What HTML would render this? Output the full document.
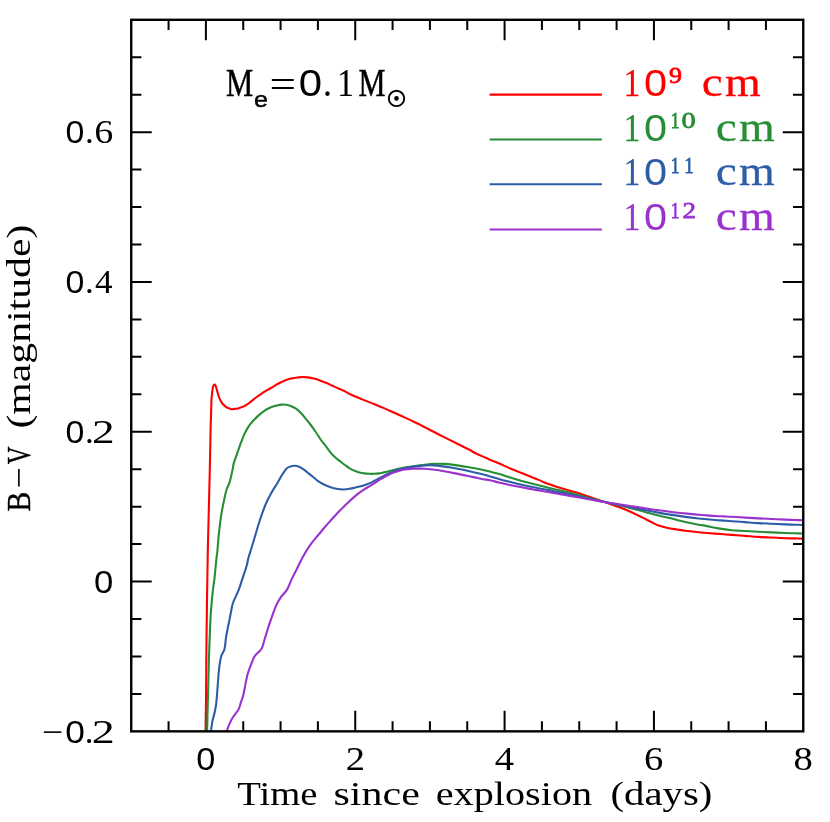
<!DOCTYPE html>
<html lang="en">
<head>
<meta charset="utf-8">
<title>B-V colour evolution</title>
<style>
html,body{margin:0;padding:0;background:#fff;}
body{width:830px;height:822px;overflow:hidden;font-family:"Liberation Serif",serif;}
svg{display:block;will-change:transform;}
</style>
</head>
<body>
<svg width="830" height="822" viewBox="0 0 830 822">
<rect x="0" y="0" width="830" height="822" fill="#fff"/>
<defs><clipPath id="c"><rect x="131.23" y="19.80" width="672.03" height="711.55"/></clipPath></defs>
<g stroke="#000" stroke-width="2.00" fill="none">
<path d="M168.56 731.35 V721.15 M168.56 19.80 V30.00"/>
<path d="M205.90 731.35 V710.85 M205.90 19.80 V40.30"/>
<path d="M243.24 731.35 V721.15 M243.24 19.80 V30.00"/>
<path d="M280.57 731.35 V721.15 M280.57 19.80 V30.00"/>
<path d="M317.90 731.35 V721.15 M317.90 19.80 V30.00"/>
<path d="M355.24 731.35 V710.85 M355.24 19.80 V40.30"/>
<path d="M392.58 731.35 V721.15 M392.58 19.80 V30.00"/>
<path d="M429.91 731.35 V721.15 M429.91 19.80 V30.00"/>
<path d="M467.25 731.35 V721.15 M467.25 19.80 V30.00"/>
<path d="M504.58 731.35 V710.85 M504.58 19.80 V40.30"/>
<path d="M541.91 731.35 V721.15 M541.91 19.80 V30.00"/>
<path d="M579.25 731.35 V721.15 M579.25 19.80 V30.00"/>
<path d="M616.59 731.35 V721.15 M616.59 19.80 V30.00"/>
<path d="M653.92 731.35 V710.85 M653.92 19.80 V40.30"/>
<path d="M691.25 731.35 V721.15 M691.25 19.80 V30.00"/>
<path d="M728.59 731.35 V721.15 M728.59 19.80 V30.00"/>
<path d="M765.92 731.35 V721.15 M765.92 19.80 V30.00"/>
<path d="M131.23 693.90 H141.43 M803.26 693.90 H793.06"/>
<path d="M131.23 656.45 H141.43 M803.26 656.45 H793.06"/>
<path d="M131.23 619.00 H141.43 M803.26 619.00 H793.06"/>
<path d="M131.23 581.55 H151.73 M803.26 581.55 H782.76"/>
<path d="M131.23 544.10 H141.43 M803.26 544.10 H793.06"/>
<path d="M131.23 506.65 H141.43 M803.26 506.65 H793.06"/>
<path d="M131.23 469.20 H141.43 M803.26 469.20 H793.06"/>
<path d="M131.23 431.75 H151.73 M803.26 431.75 H782.76"/>
<path d="M131.23 394.30 H141.43 M803.26 394.30 H793.06"/>
<path d="M131.23 356.85 H141.43 M803.26 356.85 H793.06"/>
<path d="M131.23 319.40 H141.43 M803.26 319.40 H793.06"/>
<path d="M131.23 281.95 H151.73 M803.26 281.95 H782.76"/>
<path d="M131.23 244.50 H141.43 M803.26 244.50 H793.06"/>
<path d="M131.23 207.05 H141.43 M803.26 207.05 H793.06"/>
<path d="M131.23 169.60 H141.43 M803.26 169.60 H793.06"/>
<path d="M131.23 132.15 H151.73 M803.26 132.15 H782.76"/>
<path d="M131.23 94.70 H141.43 M803.26 94.70 H793.06"/>
<path d="M131.23 57.25 H141.43 M803.26 57.25 H793.06"/>
</g>
<g clip-path="url(#c)" fill="none" stroke-width="2.10" stroke-linejoin="round" stroke-linecap="butt">
<path d="M205.70 732.00 C205.72 730.25 205.77 725.00 205.80 721.50 C205.83 718.00 205.87 714.50 205.90 711.00 C205.93 707.50 205.97 704.00 206.00 700.50 C206.03 697.00 206.07 693.97 206.10 690.00 C206.13 686.03 206.17 681.11 206.20 676.67 C206.23 672.22 206.27 667.78 206.30 663.33 C206.33 658.89 206.36 654.31 206.40 650.00 C206.44 645.69 206.50 641.67 206.55 637.50 C206.60 633.33 206.65 629.17 206.70 625.00 C206.75 620.83 206.80 616.67 206.85 612.50 C206.90 608.33 206.94 604.31 207.00 600.00 C207.06 595.69 207.14 591.11 207.22 586.67 C207.29 582.22 207.36 577.78 207.43 573.33 C207.51 568.89 207.58 563.70 207.65 560.00 C207.72 556.30 207.77 554.10 207.82 551.15 C207.88 548.20 207.92 545.79 208.00 542.30 C208.08 538.81 208.20 534.26 208.30 530.23 C208.40 526.21 208.50 522.19 208.60 518.17 C208.70 514.14 208.80 510.12 208.90 506.10 C209.00 502.08 209.10 498.08 209.20 494.07 C209.30 490.06 209.40 486.04 209.50 482.03 C209.60 478.02 209.71 474.23 209.80 470.00 C209.89 465.77 209.98 461.11 210.07 456.67 C210.16 452.22 210.24 447.78 210.33 443.33 C210.42 438.89 210.52 433.71 210.60 430.00 C210.68 426.29 210.70 424.42 210.80 421.10 C210.90 417.78 211.08 413.75 211.20 410.10 C211.32 406.45 211.33 402.23 211.50 399.20 C211.67 396.17 211.97 393.90 212.20 391.90 C212.43 389.90 212.65 388.32 212.90 387.20 C213.15 386.08 213.43 385.63 213.70 385.20 C213.97 384.77 214.22 384.58 214.50 384.60 C214.78 384.62 215.08 384.70 215.40 385.30 C215.72 385.90 216.05 387.03 216.40 388.20 C216.75 389.37 217.07 390.83 217.50 392.30 C217.93 393.77 218.45 395.55 219.00 397.00 C219.55 398.45 220.13 399.78 220.80 401.00 C221.47 402.22 222.15 403.32 223.00 404.30 C223.85 405.28 224.93 406.23 225.90 406.90 C226.87 407.57 227.88 407.92 228.80 408.30 C229.72 408.68 230.42 409.10 231.40 409.20 C232.38 409.30 233.60 409.02 234.70 408.90 C235.80 408.78 236.78 408.82 238.00 408.50 C239.22 408.18 240.73 407.53 242.00 407.00 C243.27 406.47 244.27 406.08 245.60 405.30 C246.93 404.52 248.27 403.60 250.00 402.30 C251.73 401.00 254.00 399.00 256.00 397.50 C258.00 396.00 259.98 394.60 262.00 393.30 C264.02 392.00 266.08 390.90 268.10 389.70 C270.12 388.50 272.10 387.25 274.10 386.10 C276.10 384.95 278.10 383.80 280.10 382.80 C282.10 381.80 284.08 380.85 286.10 380.10 C288.12 379.35 290.18 378.75 292.20 378.30 C294.22 377.85 296.40 377.62 298.20 377.40 C300.00 377.18 301.40 377.00 303.00 377.00 C304.60 377.00 305.98 377.13 307.80 377.40 C309.62 377.67 311.88 378.10 313.90 378.60 C315.92 379.10 317.90 379.70 319.90 380.40 C321.90 381.10 323.90 381.95 325.90 382.80 C327.90 383.65 329.88 384.58 331.90 385.50 C333.92 386.42 335.98 387.40 338.00 388.30 C340.02 389.20 341.87 389.87 344.00 390.90 C346.13 391.93 347.85 393.13 350.80 394.50 C353.75 395.87 358.08 397.62 361.70 399.10 C365.32 400.58 368.88 401.93 372.50 403.40 C376.12 404.87 379.78 406.35 383.40 407.90 C387.02 409.45 390.58 411.08 394.20 412.70 C397.82 414.32 401.48 415.93 405.10 417.60 C408.72 419.27 412.96 421.27 415.90 422.70 C418.84 424.13 420.47 425.03 422.75 426.20 C425.03 427.37 426.84 428.28 429.60 429.70 C432.36 431.12 436.05 433.05 439.30 434.70 C442.55 436.35 445.85 437.97 449.10 439.60 C452.35 441.23 455.57 442.88 458.80 444.50 C462.03 446.12 465.58 447.78 468.50 449.30 C471.42 450.82 473.38 452.18 476.30 453.60 C479.22 455.02 483.72 456.77 486.00 457.80 C488.28 458.83 487.72 458.80 490.00 459.80 C492.28 460.80 496.45 462.40 499.70 463.80 C502.95 465.20 506.25 466.82 509.50 468.20 C512.75 469.58 515.97 470.80 519.20 472.10 C522.43 473.40 525.65 474.70 528.90 476.00 C532.15 477.30 535.78 478.68 538.70 479.90 C541.62 481.12 543.17 482.08 546.40 483.30 C549.63 484.52 555.00 486.22 558.10 487.20 C561.20 488.18 562.23 488.38 565.00 489.20 C567.77 490.02 571.45 491.10 574.70 492.10 C577.95 493.10 581.25 494.15 584.50 495.20 C587.75 496.25 590.97 497.30 594.20 498.40 C597.43 499.50 600.65 500.65 603.90 501.80 C607.15 502.95 610.45 504.15 613.70 505.30 C616.95 506.45 620.17 507.42 623.40 508.70 C626.63 509.98 629.50 511.30 633.10 513.00 C636.70 514.70 641.89 517.36 645.00 518.90 C648.11 520.44 649.50 521.13 651.75 522.25 C654.00 523.37 655.59 524.59 658.50 525.60 C661.41 526.61 666.08 527.65 669.20 528.30 C672.33 528.95 674.57 529.10 677.25 529.50 C679.93 529.90 681.72 530.23 685.30 530.70 C688.88 531.17 695.11 531.92 698.70 532.30 C702.29 532.67 704.13 532.73 706.85 532.95 C709.57 533.17 712.24 533.38 715.00 533.60 C717.76 533.82 720.60 534.03 723.40 534.25 C726.20 534.47 728.17 534.62 731.80 534.90 C735.42 535.17 740.70 535.57 745.15 535.90 C749.60 536.23 754.04 536.62 758.50 536.90 C762.96 537.17 767.43 537.33 771.90 537.55 C776.37 537.77 781.56 538.06 785.30 538.20 C789.04 538.34 791.33 538.33 794.35 538.40 C797.37 538.47 801.89 538.57 803.40 538.60" stroke="#ff0000"/>
<path d="M207.10 732.00 C207.13 730.59 207.23 726.37 207.30 723.55 C207.37 720.73 207.43 718.11 207.50 715.10 C207.57 712.09 207.66 708.68 207.73 705.47 C207.81 702.26 207.89 699.04 207.97 695.83 C208.04 692.62 208.12 689.41 208.20 686.20 C208.28 682.99 208.38 679.78 208.47 676.57 C208.56 673.36 208.64 670.14 208.73 666.93 C208.82 663.72 208.91 660.18 209.00 657.30 C209.09 654.42 209.17 652.20 209.25 649.65 C209.33 647.10 209.41 644.50 209.50 642.00 C209.59 639.50 209.70 637.10 209.80 634.65 C209.90 632.20 209.95 630.54 210.10 627.30 C210.25 624.06 210.45 619.22 210.70 615.20 C210.95 611.18 211.25 607.22 211.60 603.20 C211.95 599.18 212.33 595.12 212.80 591.10 C213.27 587.08 213.93 583.12 214.40 579.10 C214.87 575.08 215.25 570.52 215.60 567.00 C215.95 563.48 216.22 560.52 216.50 558.00 C216.78 555.48 217.07 554.12 217.30 551.90 C217.53 549.68 217.70 547.10 217.90 544.70 C218.10 542.30 218.27 539.91 218.50 537.50 C218.73 535.09 219.03 532.67 219.30 530.25 C219.57 527.83 219.67 526.21 220.10 523.00 C220.53 519.79 221.20 515.02 221.90 511.00 C222.60 506.98 223.50 502.52 224.30 498.90 C225.10 495.28 225.80 492.12 226.70 489.30 C227.60 486.48 228.73 485.22 229.70 482.00 C230.67 478.78 231.82 473.15 232.50 470.00 C233.18 466.85 233.02 465.87 233.80 463.10 C234.58 460.33 236.07 456.63 237.20 453.40 C238.33 450.17 239.38 446.95 240.60 443.70 C241.82 440.45 243.13 436.83 244.50 433.90 C245.87 430.97 247.35 428.28 248.80 426.10 C250.25 423.92 251.65 422.50 253.20 420.80 C254.75 419.10 256.32 417.52 258.10 415.90 C259.88 414.28 261.95 412.47 263.90 411.10 C265.85 409.73 267.85 408.60 269.80 407.70 C271.75 406.80 273.67 406.22 275.60 405.70 C277.53 405.18 279.62 404.77 281.40 404.60 C283.18 404.43 284.67 404.43 286.30 404.70 C287.93 404.97 289.58 405.55 291.20 406.20 C292.82 406.85 294.38 407.47 296.00 408.60 C297.62 409.73 299.40 411.45 300.90 413.00 C302.40 414.55 303.48 416.07 305.00 417.90 C306.52 419.73 308.27 421.73 310.00 424.00 C311.73 426.27 313.57 428.83 315.40 431.50 C317.23 434.17 319.35 437.68 321.00 440.00 C322.65 442.32 323.77 443.37 325.30 445.40 C326.83 447.43 328.57 450.22 330.20 452.20 C331.83 454.18 333.47 455.80 335.10 457.30 C336.73 458.80 338.37 459.92 340.00 461.20 C341.63 462.48 343.28 463.80 344.90 465.00 C346.52 466.20 348.08 467.43 349.70 468.40 C351.32 469.37 352.97 470.12 354.60 470.80 C356.23 471.48 357.88 472.07 359.50 472.50 C361.12 472.93 362.68 473.18 364.30 473.40 C365.92 473.62 367.57 473.73 369.20 473.80 C370.83 473.87 372.48 473.87 374.10 473.80 C375.72 473.73 377.28 473.63 378.90 473.40 C380.52 473.17 382.17 472.75 383.80 472.40 C385.43 472.05 387.08 471.70 388.70 471.30 C390.32 470.90 391.88 470.42 393.50 470.00 C395.12 469.58 396.77 469.15 398.40 468.80 C400.03 468.45 401.68 468.18 403.30 467.90 C404.92 467.62 406.48 467.35 408.10 467.10 C409.72 466.85 411.02 466.68 413.00 466.40 C414.98 466.12 418.05 465.68 420.00 465.40 C421.95 465.12 422.28 464.95 424.70 464.70 C427.12 464.45 431.25 464.03 434.50 463.90 C437.75 463.77 440.97 463.73 444.20 463.90 C447.43 464.07 450.65 464.48 453.90 464.90 C457.15 465.32 460.45 465.88 463.70 466.40 C466.95 466.92 470.17 467.40 473.40 468.00 C476.63 468.60 480.33 469.40 483.10 470.00 C485.87 470.60 487.23 470.92 490.00 471.60 C492.77 472.28 496.45 473.15 499.70 474.10 C502.95 475.05 506.25 476.28 509.50 477.30 C512.75 478.32 515.97 479.28 519.20 480.20 C522.43 481.12 525.65 481.95 528.90 482.80 C532.15 483.65 535.45 484.48 538.70 485.30 C541.95 486.12 545.17 486.90 548.40 487.70 C551.63 488.50 555.33 489.47 558.10 490.10 C560.87 490.73 562.23 490.82 565.00 491.50 C567.77 492.18 571.50 493.27 574.75 494.15 C578.00 495.03 581.09 495.90 584.50 496.80 C587.91 497.70 591.63 498.63 595.20 499.55 C598.77 500.47 602.66 501.52 605.90 502.30 C609.14 503.08 611.73 503.60 614.65 504.25 C617.57 504.90 620.54 505.47 623.40 506.20 C626.26 506.93 628.20 507.65 631.80 508.60 C635.40 509.55 640.55 510.73 645.00 511.90 C649.45 513.07 654.02 514.48 658.50 515.60 C662.98 516.72 667.43 517.53 671.90 518.60 C676.37 519.67 680.83 520.98 685.30 522.00 C689.77 523.02 695.42 524.10 698.70 524.70 C701.98 525.30 701.72 524.98 705.00 525.60 C708.28 526.22 713.93 527.63 718.40 528.40 C722.87 529.17 727.34 529.77 731.80 530.20 C736.26 530.63 740.70 530.73 745.15 531.00 C749.60 531.27 754.04 531.57 758.50 531.80 C762.96 532.03 767.43 532.20 771.90 532.40 C776.37 532.60 781.56 532.86 785.30 533.00 C789.04 533.14 791.33 533.17 794.35 533.25 C797.37 533.33 801.89 533.46 803.40 533.50" stroke="#278e36"/>
<path d="M210.80 732.00 C211.08 730.15 211.83 724.28 212.50 720.90 C213.17 717.52 214.18 714.58 214.80 711.70 C215.42 708.82 215.77 707.27 216.20 703.60 C216.63 699.93 217.05 694.13 217.40 689.70 C217.75 685.27 217.95 681.05 218.30 677.00 C218.65 672.95 219.02 668.87 219.50 665.40 C219.98 661.93 220.37 658.93 221.20 656.20 C222.03 653.47 223.68 652.22 224.50 649.00 C225.32 645.78 225.53 640.52 226.10 636.90 C226.67 633.28 227.30 630.30 227.90 627.30 C228.50 624.30 229.10 621.92 229.70 618.90 C230.30 615.88 230.90 612.02 231.50 609.20 C232.10 606.38 232.10 605.22 233.30 602.00 C234.50 598.78 237.20 593.72 238.70 589.90 C240.20 586.08 240.98 583.08 242.30 579.10 C243.62 575.12 245.58 569.52 246.60 566.00 C247.62 562.48 247.60 560.95 248.40 558.00 C249.20 555.05 250.30 551.92 251.40 548.30 C252.50 544.68 253.80 540.32 255.00 536.30 C256.20 532.28 257.40 528.02 258.60 524.20 C259.80 520.38 260.90 517.02 262.20 513.40 C263.50 509.78 264.88 505.92 266.40 502.50 C267.92 499.08 269.48 496.10 271.30 492.90 C273.12 489.70 275.50 486.32 277.30 483.30 C279.10 480.28 280.58 477.23 282.10 474.80 C283.62 472.37 285.03 470.08 286.40 468.70 C287.77 467.32 288.92 467.00 290.30 466.50 C291.68 466.00 293.23 465.65 294.70 465.70 C296.17 465.75 297.57 466.13 299.10 466.80 C300.63 467.47 302.28 468.57 303.90 469.70 C305.52 470.83 307.17 472.30 308.80 473.60 C310.43 474.90 312.08 476.20 313.70 477.50 C315.32 478.80 316.88 480.27 318.50 481.40 C320.12 482.53 321.62 483.42 323.40 484.30 C325.18 485.18 327.25 486.02 329.20 486.70 C331.15 487.38 333.22 487.97 335.10 488.40 C336.98 488.83 339.03 489.12 340.50 489.30 C341.97 489.48 342.37 489.58 343.90 489.50 C345.43 489.42 347.92 489.08 349.70 488.80 C351.48 488.52 352.97 488.17 354.60 487.80 C356.23 487.43 357.88 487.03 359.50 486.60 C361.12 486.17 362.68 485.73 364.30 485.20 C365.92 484.67 367.57 484.10 369.20 483.40 C370.83 482.70 372.48 481.83 374.10 481.00 C375.72 480.17 377.28 479.25 378.90 478.40 C380.52 477.55 382.17 476.72 383.80 475.90 C385.43 475.08 387.08 474.23 388.70 473.50 C390.32 472.77 391.88 472.15 393.50 471.50 C395.12 470.85 396.77 470.12 398.40 469.60 C400.03 469.08 401.68 468.77 403.30 468.40 C404.92 468.03 406.48 467.68 408.10 467.40 C409.72 467.12 411.02 466.95 413.00 466.70 C414.98 466.45 418.05 466.10 420.00 465.90 C421.95 465.70 423.10 465.60 424.70 465.50 C426.30 465.40 427.17 465.23 429.60 465.30 C432.03 465.37 436.05 465.57 439.30 465.90 C442.55 466.23 445.85 466.78 449.10 467.30 C452.35 467.82 455.57 468.38 458.80 469.00 C462.03 469.62 465.25 470.30 468.50 471.00 C471.75 471.70 475.05 472.40 478.30 473.20 C481.55 474.00 484.43 474.80 488.00 475.80 C491.57 476.80 496.12 478.20 499.70 479.20 C503.28 480.20 506.25 480.95 509.50 481.80 C512.75 482.65 515.97 483.57 519.20 484.30 C522.43 485.03 525.65 485.55 528.90 486.20 C532.15 486.85 535.45 487.55 538.70 488.20 C541.95 488.85 545.17 489.45 548.40 490.10 C551.63 490.75 555.33 491.57 558.10 492.10 C560.87 492.63 562.23 492.74 565.00 493.30 C567.77 493.86 571.50 494.73 574.75 495.45 C578.00 496.17 581.09 496.85 584.50 497.60 C587.91 498.35 591.63 499.17 595.20 499.95 C598.77 500.73 602.66 501.62 605.90 502.30 C609.14 502.98 611.73 503.43 614.65 504.00 C617.57 504.57 620.54 505.12 623.40 505.70 C626.26 506.28 628.20 506.78 631.80 507.50 C635.40 508.22 640.55 509.15 645.00 510.00 C649.45 510.85 654.02 511.78 658.50 512.60 C662.98 513.42 667.43 514.18 671.90 514.90 C676.37 515.62 680.83 516.30 685.30 516.90 C689.77 517.50 695.11 518.11 698.70 518.50 C702.29 518.89 704.13 519.00 706.85 519.25 C709.57 519.50 712.24 519.77 715.00 520.00 C717.76 520.23 720.60 520.40 723.40 520.60 C726.20 520.80 728.17 520.94 731.80 521.20 C735.42 521.46 740.70 521.83 745.15 522.15 C749.60 522.47 754.04 522.83 758.50 523.10 C762.96 523.37 767.43 523.53 771.90 523.75 C776.37 523.97 781.56 524.24 785.30 524.40 C789.04 524.56 791.33 524.60 794.35 524.70 C797.37 524.80 801.89 524.95 803.40 525.00" stroke="#2d5da7"/>
<path d="M226.40 732.00 C226.88 730.73 228.25 726.82 229.30 724.40 C230.35 721.98 231.17 720.00 232.70 717.50 C234.23 715.00 237.14 711.91 238.50 709.40 C239.86 706.89 240.07 704.77 240.85 702.45 C241.63 700.13 242.42 698.59 243.20 695.50 C243.97 692.41 244.73 687.57 245.50 683.90 C246.27 680.23 246.85 676.77 247.80 673.50 C248.75 670.23 250.05 667.18 251.20 664.30 C252.35 661.42 252.98 658.78 254.70 656.20 C256.42 653.62 259.85 651.62 261.50 648.80 C263.15 645.98 263.47 642.88 264.60 639.30 C265.73 635.72 266.98 631.32 268.30 627.30 C269.62 623.28 271.20 618.82 272.50 615.20 C273.80 611.58 274.70 608.60 276.10 605.60 C277.50 602.60 279.10 599.82 280.90 597.20 C282.70 594.58 285.10 592.92 286.90 589.90 C288.70 586.88 289.88 582.92 291.70 579.10 C293.52 575.28 295.78 570.98 297.80 567.00 C299.82 563.02 301.57 559.10 303.80 555.20 C306.03 551.30 308.81 546.93 311.20 543.60 C313.59 540.27 315.83 538.00 318.15 535.20 C320.47 532.40 322.93 529.33 325.10 526.80 C327.28 524.27 329.05 522.38 331.20 520.00 C333.35 517.62 335.72 514.90 338.00 512.50 C340.28 510.10 342.95 507.52 344.90 505.60 C346.85 503.68 348.08 502.50 349.70 501.00 C351.32 499.50 352.97 497.98 354.60 496.60 C356.23 495.22 357.88 493.92 359.50 492.70 C361.12 491.48 362.68 490.35 364.30 489.30 C365.92 488.25 367.57 487.38 369.20 486.40 C370.83 485.42 372.48 484.43 374.10 483.40 C375.72 482.37 377.28 481.22 378.90 480.20 C380.52 479.18 382.17 478.22 383.80 477.30 C385.43 476.38 387.08 475.50 388.70 474.70 C390.32 473.90 391.88 473.12 393.50 472.50 C395.12 471.88 396.77 471.45 398.40 471.00 C400.03 470.55 401.68 470.12 403.30 469.80 C404.92 469.48 406.48 469.28 408.10 469.10 C409.72 468.92 411.02 468.78 413.00 468.70 C414.98 468.62 418.05 468.58 420.00 468.60 C421.95 468.62 422.28 468.60 424.70 468.80 C427.12 469.00 431.25 469.38 434.50 469.80 C437.75 470.22 440.97 470.75 444.20 471.30 C447.43 471.85 450.65 472.47 453.90 473.10 C457.15 473.73 460.45 474.43 463.70 475.10 C466.95 475.77 470.17 476.42 473.40 477.10 C476.63 477.78 480.33 478.68 483.10 479.20 C485.87 479.72 487.23 479.62 490.00 480.20 C492.77 480.78 496.45 481.90 499.70 482.70 C502.95 483.50 506.25 484.32 509.50 485.00 C512.75 485.68 515.97 486.20 519.20 486.80 C522.43 487.40 525.65 488.00 528.90 488.60 C532.15 489.20 535.45 489.83 538.70 490.40 C541.95 490.97 545.17 491.43 548.40 492.00 C551.63 492.57 555.33 493.30 558.10 493.80 C560.87 494.30 562.23 494.51 565.00 495.00 C567.77 495.49 571.50 496.17 574.75 496.75 C578.00 497.33 581.09 497.89 584.50 498.50 C587.91 499.11 591.63 499.77 595.20 500.40 C598.77 501.03 602.66 501.76 605.90 502.30 C609.14 502.84 611.73 503.20 614.65 503.65 C617.57 504.10 620.54 504.54 623.40 505.00 C626.26 505.46 628.20 505.83 631.80 506.40 C635.40 506.97 640.55 507.77 645.00 508.40 C649.45 509.03 654.02 509.60 658.50 510.20 C662.98 510.80 667.43 511.47 671.90 512.00 C676.37 512.53 680.83 512.93 685.30 513.40 C689.77 513.87 695.11 514.47 698.70 514.80 C702.29 515.13 704.13 515.20 706.85 515.40 C709.57 515.60 712.24 515.83 715.00 516.00 C717.76 516.17 720.60 516.27 723.40 516.40 C726.20 516.53 728.17 516.60 731.80 516.80 C735.42 517.00 740.70 517.33 745.15 517.60 C749.60 517.87 754.04 518.17 758.50 518.40 C762.96 518.63 767.43 518.80 771.90 519.00 C776.37 519.20 781.56 519.44 785.30 519.60 C789.04 519.76 791.33 519.83 794.35 519.95 C797.37 520.07 801.89 520.24 803.40 520.30" stroke="#9a33ce"/>
</g>
<rect x="131.23" y="19.80" width="672.03" height="711.55" fill="none" stroke="#000" stroke-width="2.40"/>
<g stroke-width="2.1" fill="none">
<path d="M489.6 94.60 H601.9" stroke="#ff0000"/>
<path d="M489.6 139.50 H601.9" stroke="#278e36"/>
<path d="M489.6 184.20 H601.9" stroke="#2d5da7"/>
<path d="M489.6 229.50 H601.9" stroke="#9a33ce"/>
</g>
<text x="196.23" y="770.30" font-family="'Liberation Sans', sans-serif" font-size="30.60" font-weight="normal" fill="#000" textLength="19.10" lengthAdjust="spacingAndGlyphs">0</text>
<text x="345.69" y="770.30" font-family="'Liberation Serif', serif" font-size="33.00" font-weight="normal" fill="#000" textLength="19.29" lengthAdjust="spacingAndGlyphs">2</text>
<text x="494.74" y="770.30" font-family="'Liberation Serif', serif" font-size="33.00" font-weight="normal" fill="#000" textLength="19.29" lengthAdjust="spacingAndGlyphs">4</text>
<text x="643.93" y="770.30" font-family="'Liberation Serif', serif" font-size="33.00" font-weight="normal" fill="#000" textLength="19.29" lengthAdjust="spacingAndGlyphs">6</text>
<text x="793.51" y="770.30" font-family="'Liberation Serif', serif" font-size="33.00" font-weight="normal" fill="#000" textLength="19.29" lengthAdjust="spacingAndGlyphs">8</text>
<text><tspan x="65.44" y="143.15" font-family="'Liberation Sans', sans-serif" font-size="30.60" font-weight="normal" fill="#000" textLength="18.87" lengthAdjust="spacingAndGlyphs">0</tspan><tspan x="85.02" y="143.15" font-family="'Liberation Serif', serif" font-size="33.00" font-weight="normal" fill="#000" textLength="8.75" lengthAdjust="spacingAndGlyphs">.</tspan><tspan x="94.18" y="143.15" font-family="'Liberation Serif', serif" font-size="33.00" font-weight="normal" fill="#000" textLength="19.06" lengthAdjust="spacingAndGlyphs">6</tspan></text>
<text><tspan x="65.44" y="292.95" font-family="'Liberation Sans', sans-serif" font-size="30.60" font-weight="normal" fill="#000" textLength="18.87" lengthAdjust="spacingAndGlyphs">0</tspan><tspan x="85.02" y="292.95" font-family="'Liberation Serif', serif" font-size="33.00" font-weight="normal" fill="#000" textLength="8.75" lengthAdjust="spacingAndGlyphs">.</tspan><tspan x="95.10" y="292.95" font-family="'Liberation Serif', serif" font-size="33.00" font-weight="normal" fill="#000" textLength="17.53" lengthAdjust="spacingAndGlyphs">4</tspan></text>
<text><tspan x="65.44" y="442.75" font-family="'Liberation Sans', sans-serif" font-size="30.60" font-weight="normal" fill="#000" textLength="18.87" lengthAdjust="spacingAndGlyphs">0</tspan><tspan x="85.02" y="442.75" font-family="'Liberation Serif', serif" font-size="33.00" font-weight="normal" fill="#000" textLength="8.75" lengthAdjust="spacingAndGlyphs">.</tspan><tspan x="91.96" y="442.75" font-family="'Liberation Serif', serif" font-size="33.00" font-weight="normal" fill="#000" textLength="22.62" lengthAdjust="spacingAndGlyphs">2</tspan></text>
<text x="94.11" y="592.55" font-family="'Liberation Sans', sans-serif" font-size="30.60" font-weight="normal" fill="#000" textLength="19.33" lengthAdjust="spacingAndGlyphs">0</text>
<text><tspan x="41.92" y="743.05" font-family="'Liberation Serif', serif" font-size="33.00" font-weight="normal" fill="#000" textLength="21.23" lengthAdjust="spacingAndGlyphs">−</tspan><tspan x="65.18" y="742.95" font-family="'Liberation Sans', sans-serif" font-size="30.60" font-weight="normal" fill="#000" textLength="19.68" lengthAdjust="spacingAndGlyphs">0</tspan><tspan x="84.72" y="742.95" font-family="'Liberation Serif', serif" font-size="33.00" font-weight="normal" fill="#000" textLength="8.75" lengthAdjust="spacingAndGlyphs">.</tspan><tspan x="91.73" y="742.95" font-family="'Liberation Serif', serif" font-size="33.00" font-weight="normal" fill="#000" textLength="23.00" lengthAdjust="spacingAndGlyphs">2</tspan></text>
<text><tspan x="237.22" y="805.00" font-family="'Liberation Serif', serif" font-size="33.50" font-weight="normal" fill="#000" textLength="80.24" lengthAdjust="spacingAndGlyphs">Time</tspan> <tspan x="333.52" y="805.00" font-family="'Liberation Serif', serif" font-size="33.50" font-weight="normal" fill="#000" textLength="86.34" lengthAdjust="spacingAndGlyphs">since</tspan> <tspan x="435.79" y="805.00" font-family="'Liberation Serif', serif" font-size="33.50" font-weight="normal" fill="#000" textLength="156.36" lengthAdjust="spacingAndGlyphs">explosion</tspan> <tspan x="610.46" y="805.00" font-family="'Liberation Serif', serif" font-size="33.50" font-weight="normal" fill="#000" textLength="101.93" lengthAdjust="spacingAndGlyphs">(days)</tspan></text>
<g transform="translate(30.1 0) rotate(-90)">
<text><tspan x="-511.39" y="0.00" font-family="'Liberation Serif', serif" font-size="33.50" font-weight="normal" fill="#000" textLength="19.75" lengthAdjust="spacingAndGlyphs" stroke="#000" stroke-width="0.4">B</tspan><tspan x="-488.39" y="0.00" font-family="'Liberation Serif', serif" font-size="33.50" font-weight="normal" fill="#000" textLength="21.35" lengthAdjust="spacingAndGlyphs">−</tspan><tspan x="-464.35" y="0.00" font-family="'Liberation Serif', serif" font-size="33.50" font-weight="normal" fill="#000" textLength="17.75" lengthAdjust="spacingAndGlyphs" stroke="#000" stroke-width="0.4">V</tspan> <tspan x="-428.58" y="0.00" font-family="'Liberation Serif', serif" font-size="33.50" font-weight="normal" fill="#000" textLength="203.94" lengthAdjust="spacingAndGlyphs">(magnitude)</tspan></text>
</g>
<text><tspan x="225.88" y="95.70" font-family="'Liberation Serif', serif" font-size="40.00" font-weight="normal" fill="#000" textLength="27.21" lengthAdjust="spacingAndGlyphs" stroke="#000" stroke-width="0.55">M</tspan><tspan x="254.03" y="106.80" font-family="'Liberation Sans', sans-serif" font-size="22.50" font-weight="normal" fill="#000" textLength="13.96" lengthAdjust="spacingAndGlyphs" stroke="#000" stroke-width="0.45">e</tspan><tspan x="269.45" y="98.10" font-family="'Liberation Serif', serif" font-size="40.00" font-weight="normal" fill="#000" textLength="26.56" lengthAdjust="spacingAndGlyphs">=</tspan><tspan x="298.82" y="95.70" font-family="'Liberation Sans', sans-serif" font-size="36.60" font-weight="normal" fill="#000" textLength="23.30" lengthAdjust="spacingAndGlyphs">0</tspan><tspan x="322.86" y="95.70" font-family="'Liberation Serif', serif" font-size="40.00" font-weight="normal" fill="#000" textLength="9.38" lengthAdjust="spacingAndGlyphs">.</tspan><tspan x="337.30" y="95.70" font-family="'Liberation Serif', serif" font-size="40.00" font-weight="normal" fill="#000" textLength="16.60" lengthAdjust="spacingAndGlyphs" stroke="#000" stroke-width="0.2">1</tspan><tspan x="358.59" y="95.70" font-family="'Liberation Serif', serif" font-size="40.00" font-weight="normal" fill="#000" textLength="27.00" lengthAdjust="spacingAndGlyphs" stroke="#000" stroke-width="0.55">M</tspan></text>
<circle cx="396.5" cy="98.4" r="7.7" fill="none" stroke="#000" stroke-width="1.9"/>
<circle cx="396.5" cy="98.4" r="2.3" fill="#000"/>
<text><tspan x="623.45" y="95.70" font-family="'Liberation Serif', serif" font-size="40.00" font-weight="normal" fill="#ff0000" textLength="16.88" lengthAdjust="spacingAndGlyphs" stroke="#ff0000" stroke-width="0.25">1</tspan><tspan x="644.14" y="95.70" font-family="'Liberation Sans', sans-serif" font-size="36.60" font-weight="normal" fill="#ff0000" textLength="23.06" lengthAdjust="spacingAndGlyphs">0</tspan><tspan x="669.06" y="83.30" font-family="'Liberation Serif', serif" font-size="24.00" font-weight="normal" fill="#ff0000" textLength="12.98" lengthAdjust="spacingAndGlyphs" stroke="#ff0000" stroke-width="0.8">9</tspan> <tspan x="701.73" y="95.70" font-family="'Liberation Serif', serif" font-size="40.00" font-weight="normal" fill="#ff0000" textLength="20.95" lengthAdjust="spacingAndGlyphs" stroke="#ff0000" stroke-width="0.3">c</tspan><tspan x="724.98" y="95.70" font-family="'Liberation Serif', serif" font-size="40.00" font-weight="normal" fill="#ff0000" textLength="35.72" lengthAdjust="spacingAndGlyphs" stroke="#ff0000" stroke-width="0.3">m</tspan></text>
<text><tspan x="623.45" y="140.60" font-family="'Liberation Serif', serif" font-size="40.00" font-weight="normal" fill="#278e36" textLength="16.88" lengthAdjust="spacingAndGlyphs" stroke="#278e36" stroke-width="0.25">1</tspan><tspan x="644.14" y="140.60" font-family="'Liberation Sans', sans-serif" font-size="36.60" font-weight="normal" fill="#278e36" textLength="23.06" lengthAdjust="spacingAndGlyphs">0</tspan><tspan x="670.66" y="128.20" font-family="'Liberation Serif', serif" font-size="24.00" font-weight="normal" fill="#278e36" textLength="8.79" lengthAdjust="spacingAndGlyphs" stroke="#278e36" stroke-width="0.8">1</tspan><tspan x="681.44" y="128.20" font-family="'Liberation Serif', serif" font-size="24.00" font-weight="normal" fill="#278e36" textLength="14.12" lengthAdjust="spacingAndGlyphs" stroke="#278e36" stroke-width="0.8">0</tspan> <tspan x="715.73" y="140.60" font-family="'Liberation Serif', serif" font-size="40.00" font-weight="normal" fill="#278e36" textLength="20.95" lengthAdjust="spacingAndGlyphs" stroke="#278e36" stroke-width="0.3">c</tspan><tspan x="738.98" y="140.60" font-family="'Liberation Serif', serif" font-size="40.00" font-weight="normal" fill="#278e36" textLength="35.72" lengthAdjust="spacingAndGlyphs" stroke="#278e36" stroke-width="0.3">m</tspan></text>
<text><tspan x="623.45" y="185.20" font-family="'Liberation Serif', serif" font-size="40.00" font-weight="normal" fill="#2d5da7" textLength="16.88" lengthAdjust="spacingAndGlyphs" stroke="#2d5da7" stroke-width="0.25">1</tspan><tspan x="644.14" y="185.20" font-family="'Liberation Sans', sans-serif" font-size="36.60" font-weight="normal" fill="#2d5da7" textLength="23.06" lengthAdjust="spacingAndGlyphs">0</tspan><tspan x="670.66" y="172.80" font-family="'Liberation Serif', serif" font-size="24.00" font-weight="normal" fill="#2d5da7" textLength="8.79" lengthAdjust="spacingAndGlyphs" stroke="#2d5da7" stroke-width="0.8">1</tspan><tspan x="684.24" y="172.80" font-family="'Liberation Serif', serif" font-size="24.00" font-weight="normal" fill="#2d5da7" textLength="9.50" lengthAdjust="spacingAndGlyphs" stroke="#2d5da7" stroke-width="0.8">1</tspan> <tspan x="715.73" y="185.20" font-family="'Liberation Serif', serif" font-size="40.00" font-weight="normal" fill="#2d5da7" textLength="20.95" lengthAdjust="spacingAndGlyphs" stroke="#2d5da7" stroke-width="0.3">c</tspan><tspan x="738.98" y="185.20" font-family="'Liberation Serif', serif" font-size="40.00" font-weight="normal" fill="#2d5da7" textLength="35.72" lengthAdjust="spacingAndGlyphs" stroke="#2d5da7" stroke-width="0.3">m</tspan></text>
<text><tspan x="623.45" y="230.20" font-family="'Liberation Serif', serif" font-size="40.00" font-weight="normal" fill="#9a33ce" textLength="16.88" lengthAdjust="spacingAndGlyphs" stroke="#9a33ce" stroke-width="0.25">1</tspan><tspan x="644.14" y="230.20" font-family="'Liberation Sans', sans-serif" font-size="36.60" font-weight="normal" fill="#9a33ce" textLength="23.06" lengthAdjust="spacingAndGlyphs">0</tspan><tspan x="670.66" y="217.80" font-family="'Liberation Serif', serif" font-size="24.00" font-weight="normal" fill="#9a33ce" textLength="8.79" lengthAdjust="spacingAndGlyphs" stroke="#9a33ce" stroke-width="0.8">1</tspan><tspan x="682.48" y="217.80" font-family="'Liberation Serif', serif" font-size="24.00" font-weight="normal" fill="#9a33ce" textLength="13.50" lengthAdjust="spacingAndGlyphs" stroke="#9a33ce" stroke-width="0.8">2</tspan> <tspan x="715.73" y="230.20" font-family="'Liberation Serif', serif" font-size="40.00" font-weight="normal" fill="#9a33ce" textLength="20.95" lengthAdjust="spacingAndGlyphs" stroke="#9a33ce" stroke-width="0.3">c</tspan><tspan x="738.98" y="230.20" font-family="'Liberation Serif', serif" font-size="40.00" font-weight="normal" fill="#9a33ce" textLength="35.72" lengthAdjust="spacingAndGlyphs" stroke="#9a33ce" stroke-width="0.3">m</tspan></text>
</svg>
</body>
</html>
